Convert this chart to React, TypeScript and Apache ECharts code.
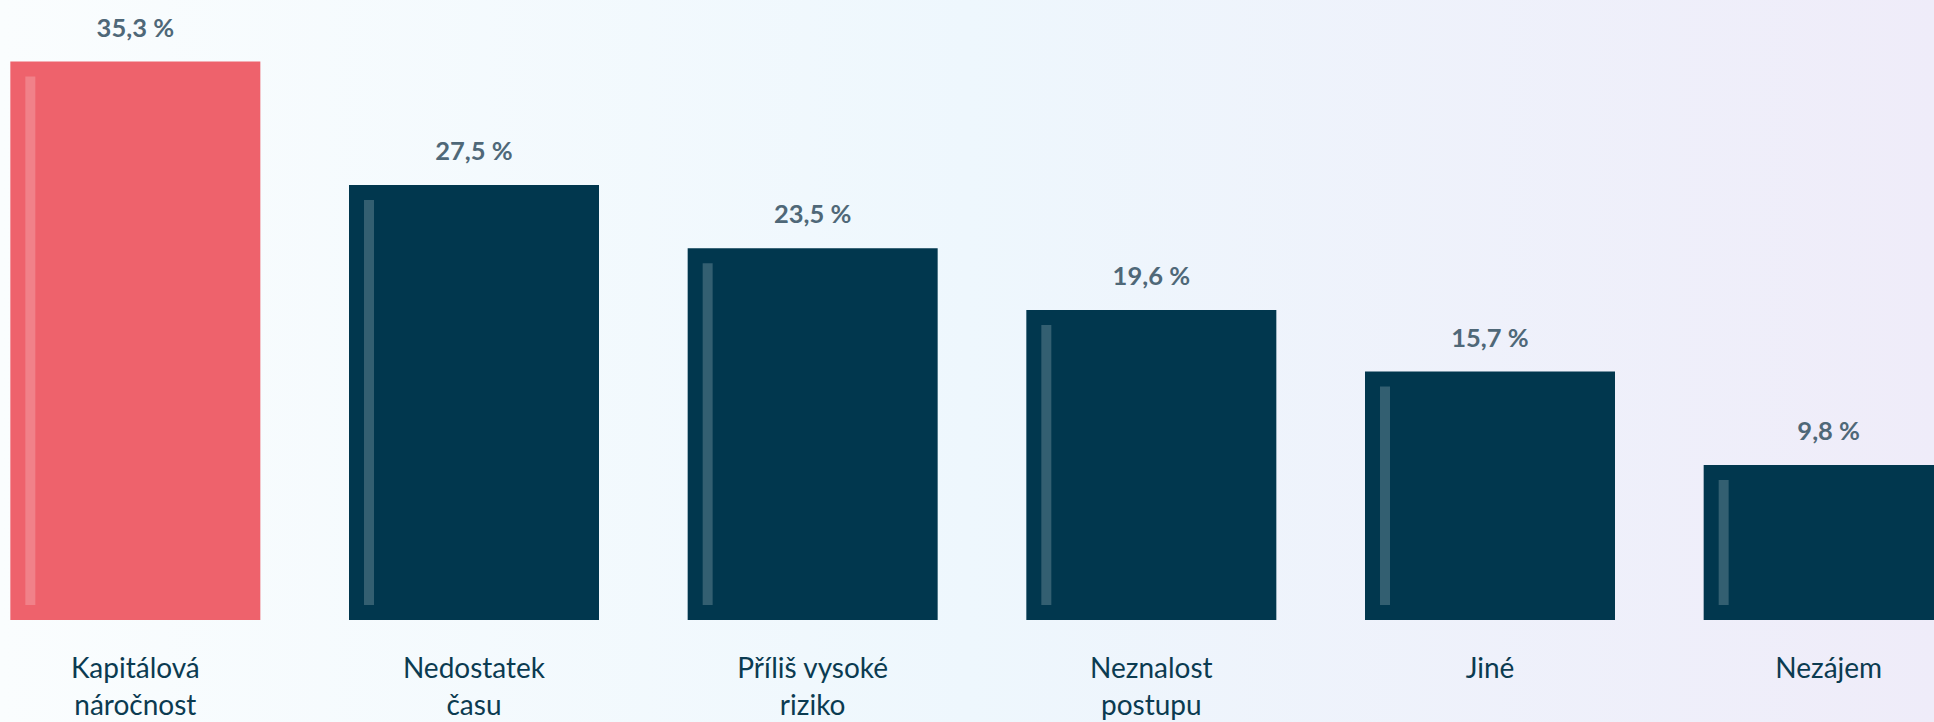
import React, { useEffect, useRef } from "react";
import * as echarts from "echarts";

const categories = [
  "Kapitálová\nnáročnost",
  "Nedostatek\nčasu",
  "Příliš vysoké\nriziko",
  "Neznalost\npostupu",
  "Jiné",
  "Nezájem",
];
const values = [35.3, 27.5, 23.5, 19.6, 15.7, 9.8];
const highlightIndex = 0;

const HIGHLIGHT = "#ee626c";
const NAVY = "#01374e";
const BAR_WIDTH = 250;

export default function App() {
  const ref = useRef<HTMLDivElement>(null);
  useEffect(() => {
    if (!ref.current) return;
    const chart = echarts.init(ref.current, null, { renderer: "svg" });
    chart.setOption({
      animation: false,
      backgroundColor: "transparent",
      grid: { left: 0, right: 0, top: 61.5, bottom: 100, containLabel: false },
      xAxis: {
        type: "category",
        data: categories,
        axisLine: { show: false },
        axisTick: { show: false },
        splitLine: { show: false },
        axisLabel: {
          interval: 0,
          margin: 28,
          fontSize: 28,
          lineHeight: 37,
          color: "#0b3b51",
          fontFamily: "Lato",
        },
      },
      yAxis: {
        type: "value",
        min: 0,
        max: "dataMax",
        show: false,
        splitLine: { show: false },
      },
      series: [
        {
          type: "bar",
          barWidth: BAR_WIDTH,
          data: values.map((v, i) => ({
            value: v,
            itemStyle: { color: i === highlightIndex ? HIGHLIGHT : NAVY },
          })),
          label: {
            show: true,
            position: "top",
            distance: 22,
            fontSize: 25.5,
            fontWeight: "bold",
            fontFamily: "Lato",
            color: "#4f6878",
            formatter: (p: any) => p.value.toFixed(1).replace(".", ",") + " %",
          },
          z: 2,
        },
        {
          type: "custom",
          z: 3,
          data: values.map((v, i) => [i, v]),
          encode: { x: 0, y: 1 },
          renderItem: (params: any, api: any) => {
            const idx = api.value(0);
            const v = api.value(1);
            const top = api.coord([idx, v]);
            const base = api.coord([idx, 0]);
            const left = top[0] - BAR_WIDTH / 2;
            return {
              type: "rect",
              shape: {
                x: left + 15,
                y: top[1] + 15,
                width: 10,
                height: base[1] - top[1] - 30,
              },
              style: { fill: "rgba(255,255,255,0.2)" },
            };
          },
        },
      ],
    });
    return () => chart.dispose();
  }, []);

  return (
    <div
      style={{
        position: "fixed",
        left: 0,
        top: 0,
        width: 1934,
        height: 722,
        overflow: "hidden",
        background:
          "linear-gradient(to right, #fafdfe 0%, #eef7fd 50%, #efecf9 100%)",
      }}
    >
      <div
        ref={ref}
        style={{ position: "absolute", left: -34, top: 0, width: 2032, height: 722 }}
      />
    </div>
  );
}
